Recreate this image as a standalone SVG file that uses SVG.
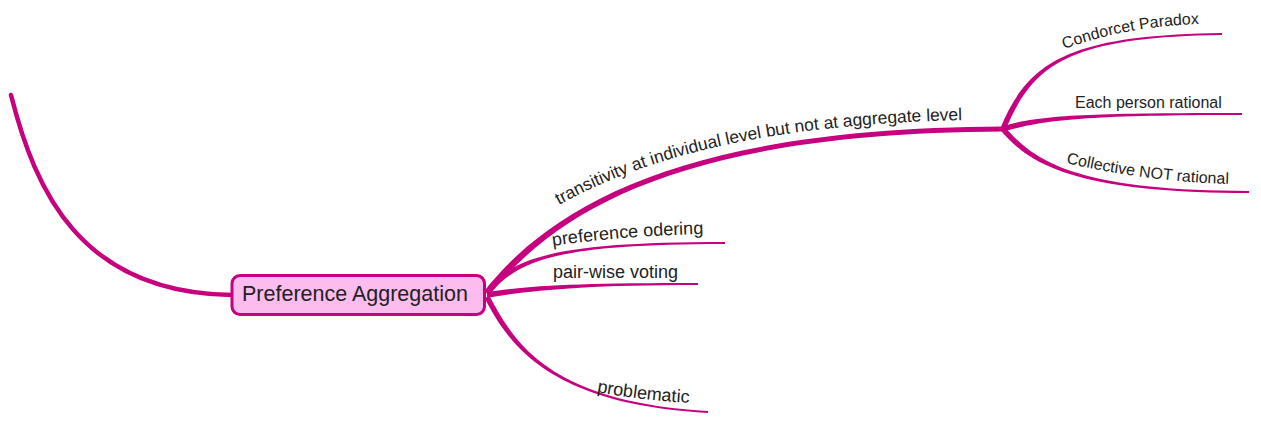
<svg xmlns="http://www.w3.org/2000/svg" width="1261" height="426" viewBox="0 0 1261 426">
<style>
.br{fill:#C6007E;stroke:none}
.ln{fill:none;stroke:#C6007E;stroke-linecap:round}
.lbl{font-family:"Liberation Sans",Arial,sans-serif;fill:#222222}
.l1{font-size:18px}
.l2{font-size:16px}
.guide{fill:none;stroke:none}
</style>
<defs>
<path id="tp-trans" class="guide" d="M559,205 C640,160 760,124 966,120"/>
<path id="tp-pref" class="guide" d="M553,246 Q620,236 704,234"/>
<path id="tp-prob" class="guide" d="M597,392 Q640,400 690,403"/>
<path id="tp-cond" class="guide" d="M1064,49 Q1129,25.5 1202,24"/>
<path id="tp-coll" class="guide" d="M1066,163 Q1146,181.5 1229,184"/>
</defs>
<g id="connectors">
<path class="ln" stroke-width="4.5" d="M232,295 C80,293 35,190 11,95"/>
<path class="br" d="M484.4,291 C557.4,198 700,127.5 1003,126.5 L1003,131.5 C700,132.5 562.6,202 489.6,295 Z"/>
<path class="br" d="M1000.5,127.9 C1027.5,63.9 1065,35 1222,33 L1222,35 C1065,37 1032.5,66.1 1005.5,130.1 Z"/>
<path class="br" d="M1002.2,126.4 C1039.2,115.4 1080,113 1242,113 L1242,115 C1080,115 1040.8,120.6 1003.8,131.6 Z"/>
<path class="br" d="M1005.1,127.2 C1032.1,158.2 1070,191 1249,191 L1249,193 C1070,193 1027.9,161.8 1000.9,130.8 Z"/>
<path class="br" d="M484.9,291.3 C512.9,256.3 560,242 725,242 L725,244 C560,244 517.2,259.7 489.2,294.7 Z"/>
<path class="br" d="M486.6,292.3 C529.6,285.3 580,283 698,283 L698,285 C580,285 530.4,290.7 487.4,297.7 Z"/>
<path class="br" d="M489.4,295.7 C512.4,338.7 545.1,402 708.1,411 L707.9,413 C544.9,404 507.6,341.3 484.6,298.3 Z"/>
</g>
<g id="node-center">
<rect x="232" y="275.5" width="252.5" height="39" rx="8" fill="#FDBCEE" stroke="#C6007E" stroke-width="3"/>
<text class="lbl" x="242" y="301" font-size="21.5px">Preference Aggregation</text>
</g>
<g id="node-transitivity">
<text class="lbl" font-size="17.4px"><textPath href="#tp-trans">transitivity at individual level but not at aggregate level</textPath></text>
</g>
<g id="node-condorcet">
<text class="lbl l2"><textPath href="#tp-cond">Condorcet Paradox</textPath></text>
</g>
<g id="node-each">
<text class="lbl l2" x="1075" y="108">Each person rational</text>
</g>
<g id="node-collective">
<text class="lbl l2"><textPath href="#tp-coll">Collective NOT rational</textPath></text>
</g>
<g id="node-preference">
<text class="lbl l1"><textPath href="#tp-pref">preference odering</textPath></text>
</g>
<g id="node-pairwise">
<text class="lbl l1" x="553" y="278">pair-wise voting</text>
</g>
<g id="node-problematic">
<text class="lbl l1"><textPath href="#tp-prob">problematic</textPath></text>
</g>
</svg>
